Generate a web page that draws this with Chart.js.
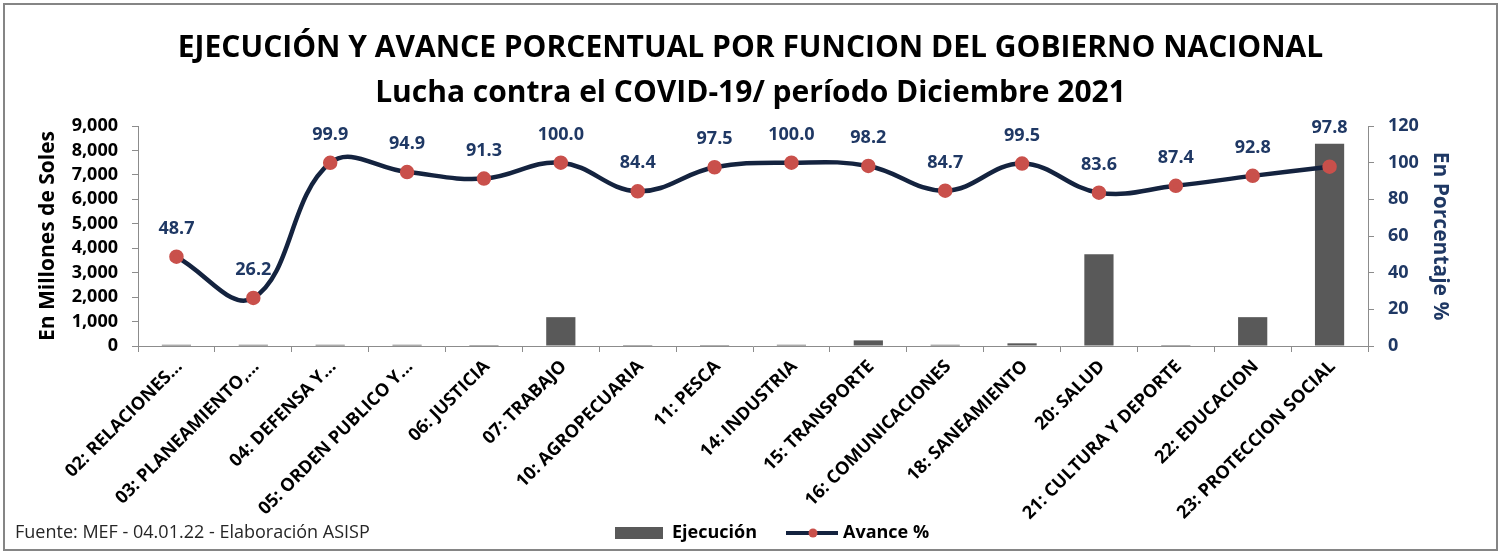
<!DOCTYPE html>
<html>
<head>
<meta charset="utf-8">
<script src="https://cdn.jsdelivr.net/npm/chart.js@4.4.0/dist/chart.umd.min.js"></script>
<style>
  html, body { margin: 0; padding: 0; background: #fff; }
</style>
</head>
<body>
<canvas id="chart" width="1501" height="554"></canvas>
<script>
// data
const categories = [
  '02: RELACIONES...', '03: PLANEAMIENTO,...', '04: DEFENSA Y...', '05: ORDEN PUBLICO Y...',
  '06: JUSTICIA', '07: TRABAJO', '10: AGROPECUARIA', '11: PESCA', '14: INDUSTRIA',
  '15: TRANSPORTE', '16: COMUNICACIONES', '18: SANEAMIENTO', '20: SALUD',
  '21: CULTURA Y DEPORTE', '22: EDUCACION', '23: PROTECCION SOCIAL'
];
const ejecucion = [50, 50, 50, 50, 40, 1180, 40, 40, 50, 230, 50, 110, 3750, 40, 1180, 8270];
const avance = [48.7, 26.2, 99.9, 94.9, 91.3, 100.0, 84.4, 97.5, 100.0, 98.2, 84.7, 99.5, 83.6, 87.4, 92.8, 97.8];
const leftRange = [0, 9000, 1000];
const rightRange = [0, 120, 20];

const FONT = '"Open Sans", sans-serif';
const NAVY = '#1f3864';
const LINE = '#14233f';
const BAR = '#595959';
const DOT = '#c9504b';
const AXIS = '#8c8c8c';

const pointLabels = {
  id: 'pointLabels',
  afterDatasetsDraw(chart) {
    const line = chart.getDatasetMeta(1);
    const bars = chart.getDatasetMeta(0);
    const ctx = chart.ctx;
    ctx.save();
    ctx.font = 'bold 18px ' + FONT;
    ctx.fillStyle = NAVY;
    ctx.textAlign = 'center';
    ctx.textBaseline = 'middle';
    line.data.forEach((pt, i) => {
      let y = pt.y - 28;
      const barTop = bars.data[i].y;
      if (barTop < y + 12) y = barTop - 16;
      ctx.fillText(avance[i].toFixed(1), pt.x, y);
    });
    ctx.restore();
  }
};

const frame = {
  id: 'frame',
  beforeDraw(chart) {
    const ctx = chart.ctx;
    ctx.save();
    ctx.fillStyle = '#fff';
    ctx.fillRect(0, 0, chart.width, chart.height);
    ctx.restore();
  },
  afterDraw(chart) {
    const ctx = chart.ctx;
    ctx.save();
    ctx.strokeStyle = '#858585';
    ctx.lineWidth = 2;
    ctx.strokeRect(4, 4, chart.width - 8, chart.height - 8);

    // footnote
    ctx.fillStyle = '#262626';
    ctx.font = '18px ' + FONT;
    ctx.textBaseline = 'middle';
    ctx.textAlign = 'left';
    ctx.fillText('Fuente: MEF - 04.01.22 - Elaboración ASISP', 15, 533);

    // legend
    const y = 533;
    ctx.font = 'bold 18px ' + FONT;
    ctx.fillStyle = BAR;
    ctx.fillRect(615, y - 6, 48, 12);
    ctx.fillStyle = '#000';
    ctx.fillText(chart.data.datasets[0].label, 672, y);
    ctx.strokeStyle = LINE;
    ctx.lineWidth = 4;
    ctx.beginPath();
    ctx.moveTo(786, y);
    ctx.lineTo(838, y);
    ctx.stroke();
    ctx.fillStyle = DOT;
    ctx.beginPath();
    ctx.arc(813, y, 4.5, 0, Math.PI * 2);
    ctx.fill();
    ctx.fillStyle = '#000';
    ctx.fillText(chart.data.datasets[1].label, 843, y);
    ctx.restore();
  }
};

new Chart(document.getElementById('chart'), {
  data: {
    labels: categories,
    datasets: [
      {
        type: 'bar',
        label: 'Ejecución',
        data: ejecucion,
        yAxisID: 'y',
        backgroundColor: BAR,
        barPercentage: 0.38,
        categoryPercentage: 1,
        order: 1
      },
      {
        type: 'line',
        label: 'Avance %',
        data: avance,
        yAxisID: 'y1',
        borderColor: LINE,
        borderWidth: 4.5,
        tension: 0.4,
        pointRadius: 5,
        pointBackgroundColor: DOT,
        pointBorderColor: DOT,
        order: 0
      }
    ]
  },
  options: {
    responsive: false,
    devicePixelRatio: 1,
    animation: false,
    layout: { padding: 0 },
    plugins: {
      legend: { display: false },
      tooltip: { enabled: false },
      title: {
        display: true,
        text: ['EJECUCIÓN Y AVANCE PORCENTUAL POR FUNCION DEL GOBIERNO NACIONAL',
               'Lucha contra el COVID-19/ período Diciembre 2021'],
        color: '#000',
        font: { family: FONT, size: 30, weight: 'bold', lineHeight: 1.5 },
        padding: { top: 26, bottom: 10 }
      }
    },
    scales: {
      x: {
        grid: { offset: true, drawOnChartArea: false, tickLength: 6, color: AXIS },
        border: { color: AXIS },
        ticks: {
          minRotation: 45, maxRotation: 45, autoSkip: false, padding: 4, labelOffset: 3,
          color: '#000', font: { family: FONT, size: 18, weight: 'bold' }
        },
        afterFit(scale) { scale.height = 208; }
      },
      y: {
        position: 'left',
        min: leftRange[0], max: leftRange[1],
        grid: { drawOnChartArea: false, tickLength: 6, color: AXIS },
        border: { color: AXIS },
        ticks: {
          stepSize: leftRange[2], autoSkip: false, padding: 14, color: '#000',
          font: { family: FONT, size: 18, weight: 'bold' },
          callback: v => v.toLocaleString('en-US')
        },
        title: {
          display: true, text: 'En Millones de Soles', color: '#000',
          font: { family: FONT, size: 21, weight: 'bold' },
          padding: { top: 35, bottom: 0 }
        },
        afterFit(scale) { scale.width = 138; }
      },
      y1: {
        position: 'right',
        min: rightRange[0], max: rightRange[1],
        grid: { drawOnChartArea: false, tickLength: 6, color: AXIS },
        border: { color: AXIS },
        ticks: {
          stepSize: rightRange[2], autoSkip: false, padding: 14, color: NAVY,
          font: { family: FONT, size: 18, weight: 'bold' }
        },
        title: {
          display: true, text: 'En Porcentaje %', color: NAVY,
          font: { family: FONT, size: 21, weight: 'bold' },
          padding: { top: 48, bottom: 0 }
        },
        afterFit(scale) { scale.width = 133; }
      }
    }
  },
  plugins: [frame, pointLabels]
});
</script>
</body>
</html>
